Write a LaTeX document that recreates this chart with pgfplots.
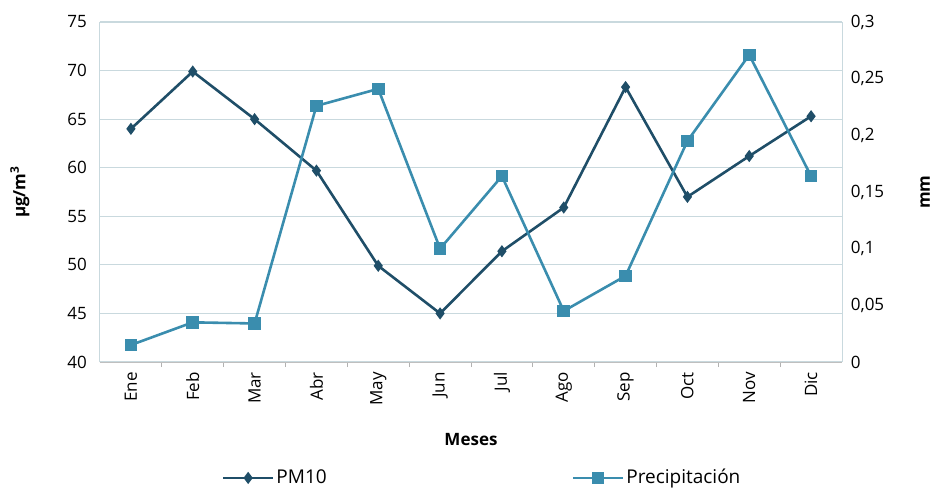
\documentclass[border=0pt]{standalone}
\usepackage{pgfplots}
\pgfplotsset{compat=1.18}
\usepackage{fontspec}
\setmainfont{Open Sans}
\definecolor{pmc}{HTML}{1F4E68}
\definecolor{prc}{HTML}{3A8DAE}
\definecolor{gridc}{HTML}{C9D9DE}
\begin{document}
\fontsize{17}{20}\selectfont
\begin{tikzpicture}
\pgfplotsset{
  every axis/.append style={font=\fontsize{17}{20}\selectfont},
  /pgf/number format/assume math mode=true,
}
\begin{axis}[
  scale only axis, width=742pt, height=340pt,
  at={(0,0)}, anchor=south west,
  xmin=-0.5, xmax=11.5, ymin=40, ymax=75,
  ytick={40,45,...,75},
  xtick={0,...,11},
  xticklabels={Ene,Feb,Mar,Abr,May,Jun,Jul,Ago,Sep,Oct,Nov,Dic},
  x tick label style={rotate=90, anchor=east},
  minor xtick={0.5,1.5,...,10.5},
  major x tick style={draw=none},
  minor x tick style={draw=gray!60, line width=0.8pt},
  tick align=outside,
  minor tick length=5pt,
  ytick style={draw=none},
  yticklabel style={xshift=-3pt},
  ymajorgrids, grid style={gridc, line width=1.2pt},
  axis y line*=left, axis x line*=bottom,
  axis line style={draw=gridc, line width=1pt},
  x axis line style={draw=gray!50},
  ylabel={\textbf{µg/m\textsuperscript{3}}},
  ylabel style={at={(rel axis cs:-0.108,0.5)}, anchor=center},
  xlabel={\textbf{Meses}},
  xlabel style={at={(rel axis cs:0.5,-0.229)}, anchor=center},
  legend style={at={(rel axis cs:0.515,-0.341)}, anchor=center, draw=none, legend columns=2,
    /tikz/every even column/.append style={column sep=243pt}, fill=none,
    font=\fontsize{19}{22}\selectfont},
  legend image code/.code={\draw[mark repeat=2,mark phase=2] plot coordinates {(0pt,0pt) (25pt,0pt) (50pt,0pt)};},
]
\addplot[pmc, line width=2.6pt, mark=diamond*, mark size=4pt] coordinates {
(0,64) (1,69.9) (2,65) (3,59.7) (4,49.9) (5,45) (6,51.4) (7,55.9) (8,68.3) (9,57) (10,61.2) (11,65.3)};
\addlegendentry{PM10}
\addlegendimage{prc, line width=2.6pt, mark=square*, mark size=4.5pt}
\addlegendentry{Precipitación}
\end{axis}
\begin{axis}[
  scale only axis, width=742pt, height=340pt,
  at={(0,0)}, anchor=south west,
  xmin=-0.5, xmax=11.5, ymin=0, ymax=0.3,
  ytick={0,0.05,...,0.3},
  axis y line*=right, axis x line=none,
  axis line style={draw=gridc, line width=1pt},
  ytick style={draw=none},
  yticklabel style={xshift=3pt, /pgf/number format/.cd, use comma, fixed, precision=2, assume math mode=true},
  scaled y ticks=false,
  ylabel={\textbf{mm}},
  ylabel style={at={(rel axis cs:1.112,0.5)}, anchor=center},
]
\addplot[prc, line width=2.6pt, mark=square*, mark size=5pt] coordinates {
(0,0.015) (1,0.035) (2,0.034) (3,0.226) (4,0.241) (5,0.1) (6,0.164) (7,0.045) (8,0.076) (9,0.195) (10,0.271) (11,0.164)};
\end{axis}
\pgfresetboundingbox
\path (-100pt,-129pt) rectangle (835pt,362pt);
\end{tikzpicture}
\end{document}
